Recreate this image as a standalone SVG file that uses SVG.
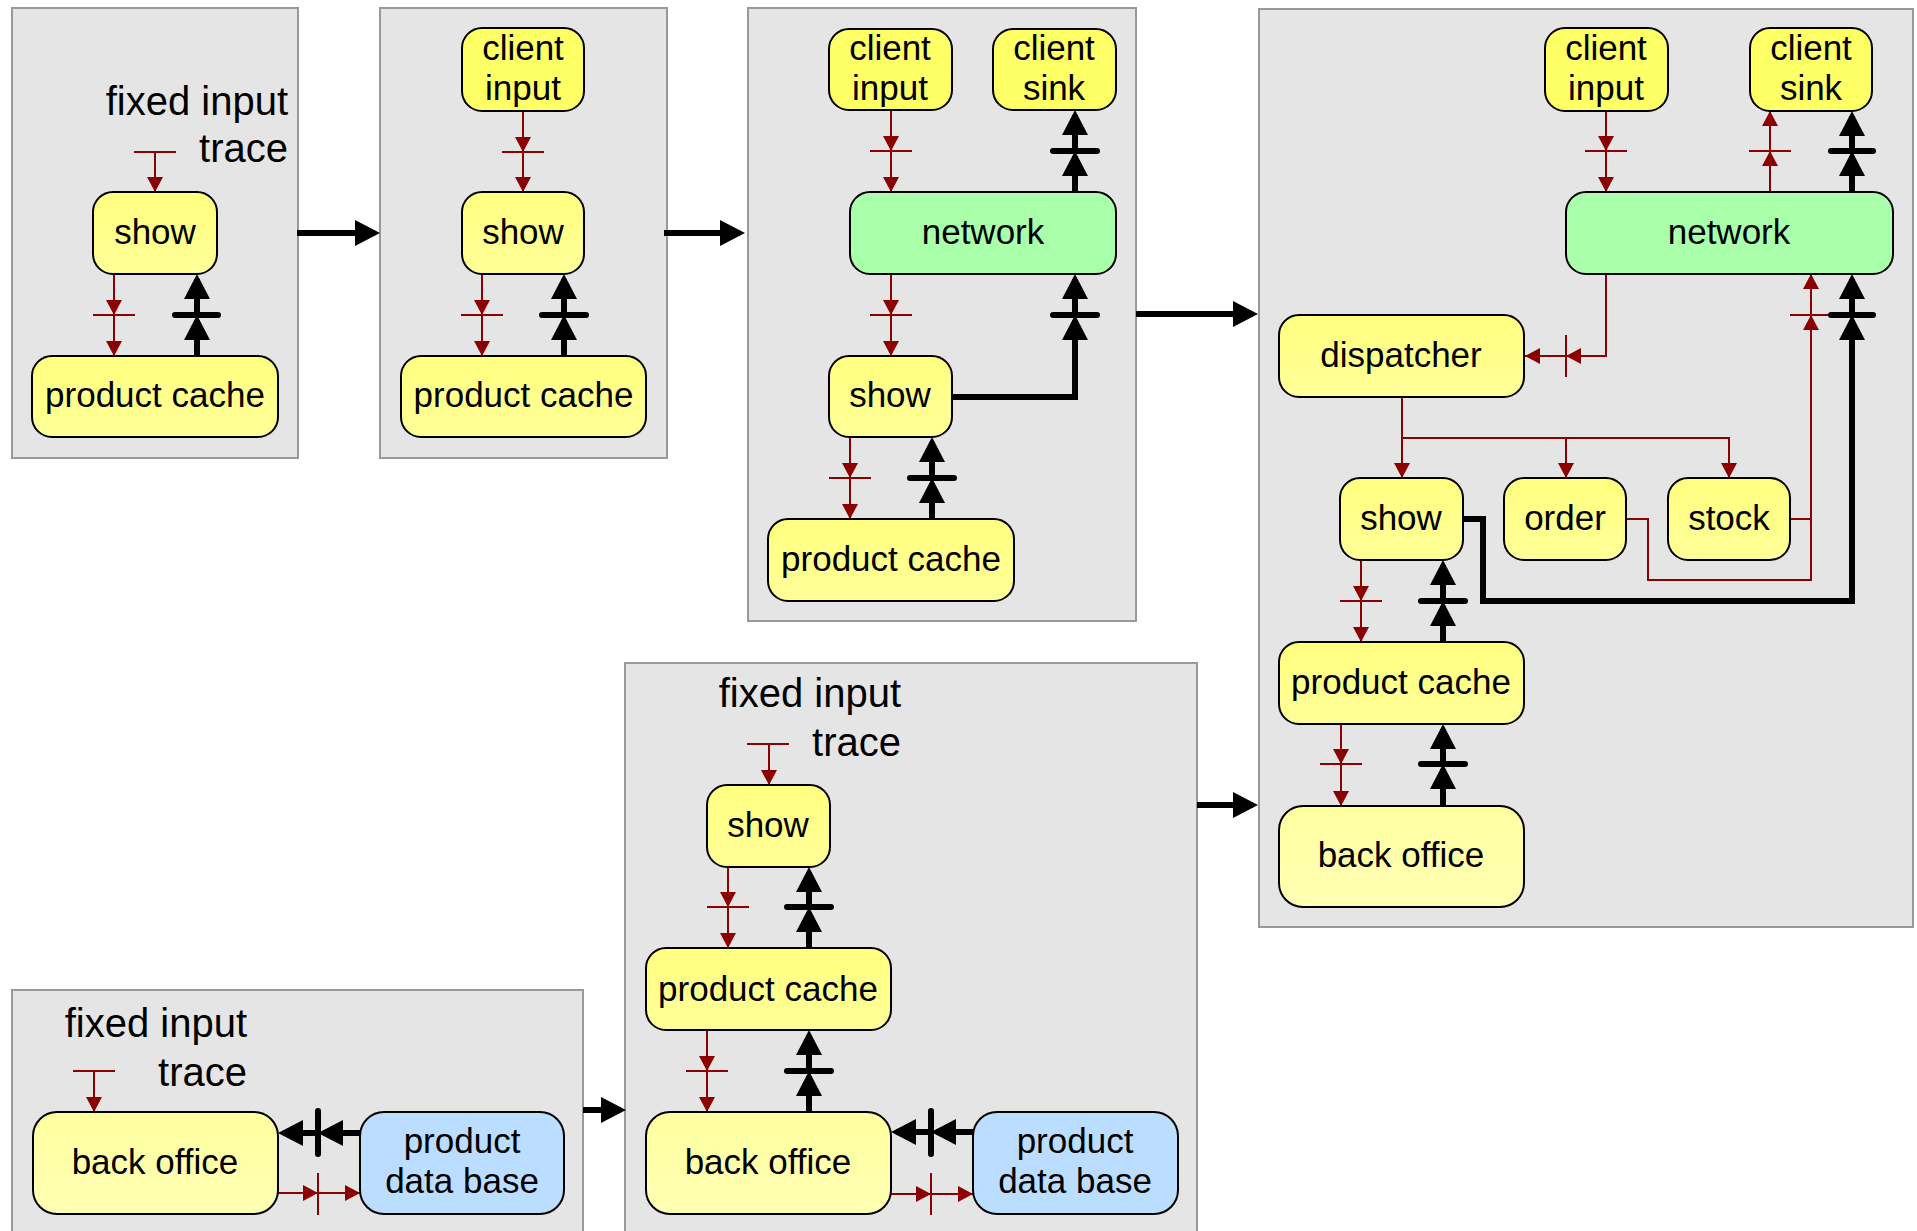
<svg xmlns="http://www.w3.org/2000/svg" width="1917" height="1231" viewBox="0 0 1917 1231">
<style>
.panel{fill:#e5e5e5;stroke:#999;stroke-width:2}
.n{stroke:#000;stroke-width:2}
.y{fill:url(#gy)}
.ys{fill:#ffff66}
.yl{fill:url(#gl)}
.g{fill:#aaffaa}
.b{fill:#bbddff}
text{font-family:"Liberation Sans",Arial,sans-serif;fill:#000}
.t{font-size:35px;text-anchor:middle}
.lbl{font-size:40px;text-anchor:end}
.r{fill:none;stroke:#8b0000;stroke-width:2;marker-end:url(#ar)}
.rl{fill:none;stroke:#8b0000;stroke-width:2}
.k{fill:none;stroke:#000;stroke-width:6;marker-end:url(#ab)}
.kb{fill:none;stroke:#000;stroke-width:6;stroke-linecap:round}
</style>
<defs>
<linearGradient id="gy" x1="0" y1="0" x2="0" y2="1"><stop offset="0" stop-color="#ffff80"/><stop offset="1" stop-color="#ffff99"/></linearGradient>
<linearGradient id="gl" x1="0" y1="0" x2="0" y2="1"><stop offset="0" stop-color="#ffffa0"/><stop offset="1" stop-color="#ffffb4"/></linearGradient>
<marker id="ar" markerUnits="userSpaceOnUse" markerWidth="15" markerHeight="16" viewBox="-15 -8 15 16" refX="0" refY="0" orient="auto"><path d="M-15,-8 L0,0 L-15,8 z" fill="#8b0000"/></marker>
<marker id="ab" markerUnits="userSpaceOnUse" markerWidth="26" markerHeight="26" viewBox="-21 -13 26 26" refX="0" refY="0" orient="auto"><path d="M-20,-13 L5,0 L-20,13 z" fill="#000"/></marker>
</defs>

<g id="panels">
<rect id="panel1" class="panel" x="12" y="8" width="286" height="450"/>
<rect id="panel2" class="panel" x="380" y="8" width="287" height="450"/>
<rect id="panel3" class="panel" x="748" y="8" width="388" height="613"/>
<rect id="panel4" class="panel" x="1259" y="9" width="654" height="918"/>
<rect id="panel5" class="panel" x="625" y="663" width="572" height="580"/>
<rect id="panel6" class="panel" x="12" y="990" width="571" height="260"/>
</g>

<g id="labels">
<text class="lbl" x="288" y="115">fixed input</text>
<text class="lbl" x="288" y="162">trace</text>
<text class="lbl" x="901" y="707">fixed input</text>
<text class="lbl" x="901" y="756">trace</text>
<text class="lbl" x="247" y="1037">fixed input</text>
<text class="lbl" x="247" y="1086">trace</text>
</g>

<g id="connectors">
<path class="k" d="M297,233 L375,233"/>
<path class="k" d="M664,233 L740,233"/>
<path class="k" d="M1136,314 L1253,314"/>
<path class="k" d="M1197,805 L1253,805"/>
<path class="k" d="M583,1110 L621,1110"/>

<line class="rl" x1="134" y1="152" x2="176" y2="152"/>
<path class="r" d="M155,152 L155,192"/>
<path class="r" d="M114,274 L114,315"/><path class="r" d="M114,315 L114,356"/>
<line class="rl" x1="93" y1="315" x2="135" y2="315"/>
<path class="k" d="M197,356 L197,320"/><path class="k" d="M197,315 L197,279"/>
<line class="kb" x1="175" y1="315" x2="218" y2="315"/>

<path class="r" d="M523,111 L523,152"/><path class="r" d="M523,152 L523,192"/>
<line class="rl" x1="502" y1="152" x2="544" y2="152"/>
<path class="r" d="M482,274 L482,315"/><path class="r" d="M482,315 L482,356"/>
<line class="rl" x1="461" y1="315" x2="503" y2="315"/>
<path class="k" d="M564,356 L564,320"/><path class="k" d="M564,315 L564,279"/>
<line class="kb" x1="542" y1="315" x2="586" y2="315"/>

<path class="r" d="M891,110 L891,151"/><path class="r" d="M891,151 L891,192"/>
<line class="rl" x1="870" y1="151" x2="912" y2="151"/>
<path class="k" d="M1075,192 L1075,156"/><path class="k" d="M1075,151 L1075,115"/>
<line class="kb" x1="1053" y1="151" x2="1097" y2="151"/>
<path class="r" d="M891,274 L891,315"/><path class="r" d="M891,315 L891,356"/>
<line class="rl" x1="870" y1="315" x2="912" y2="315"/>
<path class="k" d="M951,397 L1075,397 L1075,320"/><path class="k" d="M1075,315 L1075,279"/>
<line class="kb" x1="1053" y1="315" x2="1097" y2="315"/>
<path class="r" d="M850,437 L850,478"/><path class="r" d="M850,478 L850,519"/>
<line class="rl" x1="829" y1="478" x2="871" y2="478"/>
<path class="k" d="M932,519 L932,483"/><path class="k" d="M932,478 L932,442"/>
<line class="kb" x1="910" y1="478" x2="954" y2="478"/>

<path class="r" d="M1606,111 L1606,151"/><path class="r" d="M1606,151 L1606,192"/>
<line class="rl" x1="1585" y1="151" x2="1627" y2="151"/>
<path class="r" d="M1770,192 L1770,151"/><path class="r" d="M1770,151 L1770,111"/>
<line class="rl" x1="1749" y1="151" x2="1791" y2="151"/>
<path class="k" d="M1852,192 L1852,156"/><path class="k" d="M1852,151 L1852,116"/>
<line class="kb" x1="1831" y1="151" x2="1873" y2="151"/>
<path class="r" d="M1606,274 L1606,356 L1566,356"/><path class="r" d="M1566,356 L1525,356"/>
<line class="rl" x1="1566" y1="335" x2="1566" y2="377"/>
<path class="r" d="M1402,397 L1402,478"/>
<path class="r" d="M1402,438 L1729,438 L1729,478"/>
<path class="r" d="M1566,438 L1566,478"/>
<path class="r" d="M1626,519 L1648,519 L1648,580 L1811,580 L1811,315"/><path class="r" d="M1811,315 L1811,274"/>
<path class="rl" d="M1790,519 L1811,519"/>
<line class="rl" x1="1790" y1="315" x2="1831" y2="315"/>
<path class="k" d="M1463,519 L1483,519 L1483,601 L1852,601 L1852,320"/><path class="k" d="M1852,315 L1852,279"/>
<line class="kb" x1="1831" y1="315" x2="1873" y2="315"/>
<path class="r" d="M1361,560 L1361,601"/><path class="r" d="M1361,601 L1361,642"/>
<line class="rl" x1="1340" y1="601" x2="1382" y2="601"/>
<path class="k" d="M1443,642 L1443,606"/><path class="k" d="M1443,601 L1443,565"/>
<line class="kb" x1="1421" y1="601" x2="1465" y2="601"/>
<path class="r" d="M1341,724 L1341,764"/><path class="r" d="M1341,764 L1341,806"/>
<line class="rl" x1="1320" y1="764" x2="1362" y2="764"/>
<path class="k" d="M1443,806 L1443,769"/><path class="k" d="M1443,764 L1443,729"/>
<line class="kb" x1="1421" y1="764" x2="1465" y2="764"/>

<line class="rl" x1="747" y1="744" x2="789" y2="744"/>
<path class="r" d="M769,744 L769,785"/>
<path class="r" d="M728,867 L728,907"/><path class="r" d="M728,907 L728,948"/>
<line class="rl" x1="707" y1="907" x2="749" y2="907"/>
<path class="k" d="M809,948 L809,912"/><path class="k" d="M809,907 L809,872"/>
<line class="kb" x1="787" y1="907" x2="831" y2="907"/>
<path class="r" d="M707,1030 L707,1071"/><path class="r" d="M707,1071 L707,1112"/>
<line class="rl" x1="686" y1="1071" x2="728" y2="1071"/>
<path class="k" d="M809,1112 L809,1076"/><path class="k" d="M809,1071 L809,1035"/>
<line class="kb" x1="787" y1="1071" x2="831" y2="1071"/>
<path class="k" d="M973,1132 L936,1132"/><path class="k" d="M931,1132 L896,1132"/>
<line class="kb" x1="931" y1="1111" x2="931" y2="1154"/>
<path class="r" d="M891,1194 L931,1194"/><path class="r" d="M931,1194 L973,1194"/>
<line class="rl" x1="931" y1="1173" x2="931" y2="1215"/>

<line class="rl" x1="73" y1="1071" x2="115" y2="1071"/>
<path class="r" d="M94,1071 L94,1112"/>
<path class="k" d="M360,1133 L323,1133"/><path class="k" d="M318,1133 L283,1133"/>
<line class="kb" x1="318" y1="1111" x2="318" y2="1154"/>
<path class="r" d="M278,1193 L318,1193"/><path class="r" d="M318,1193 L360,1193"/>
<line class="rl" x1="318" y1="1173" x2="318" y2="1215"/>
</g>

<g id="p1-show"><rect class="n y" x="93" y="192" width="124" height="82" rx="20"/><text class="t" x="155" y="244">show</text></g>
<g id="p1-cache"><rect class="n y" x="32" y="356" width="246" height="81" rx="20"/><text class="t" x="155" y="407">product cache</text></g>

<g id="p2-client-input"><rect class="n ys" x="462" y="28" width="122" height="83" rx="20"/><text class="t" x="523" y="60">client</text><text class="t" x="523" y="100">input</text></g>
<g id="p2-show"><rect class="n y" x="462" y="192" width="122" height="82" rx="20"/><text class="t" x="523" y="244">show</text></g>
<g id="p2-cache"><rect class="n y" x="401" y="356" width="245" height="81" rx="20"/><text class="t" x="523.5" y="407">product cache</text></g>

<g id="p3-client-input"><rect class="n ys" x="829" y="29" width="123" height="81" rx="20"/><text class="t" x="890" y="60">client</text><text class="t" x="890" y="100">input</text></g>
<g id="p3-client-sink"><rect class="n ys" x="993" y="29" width="123" height="81" rx="20"/><text class="t" x="1054" y="60">client</text><text class="t" x="1054" y="100">sink</text></g>
<g id="p3-network"><rect class="n g" x="850" y="192" width="266" height="82" rx="20"/><text class="t" x="983" y="244">network</text></g>
<g id="p3-show"><rect class="n y" x="829" y="356" width="123" height="81" rx="20"/><text class="t" x="890" y="407">show</text></g>
<g id="p3-cache"><rect class="n y" x="768" y="519" width="246" height="82" rx="20"/><text class="t" x="891" y="571">product cache</text></g>

<g id="p4-client-input"><rect class="n ys" x="1545" y="28" width="123" height="83" rx="20"/><text class="t" x="1606" y="60">client</text><text class="t" x="1606" y="100">input</text></g>
<g id="p4-client-sink"><rect class="n ys" x="1750" y="28" width="122" height="83" rx="20"/><text class="t" x="1811" y="60">client</text><text class="t" x="1811" y="100">sink</text></g>
<g id="p4-network"><rect class="n g" x="1566" y="192" width="327" height="82" rx="20"/><text class="t" x="1729" y="244">network</text></g>
<g id="p4-dispatcher"><rect class="n y" x="1279" y="315" width="245" height="82" rx="20"/><text class="t" x="1401" y="367">dispatcher</text></g>
<g id="p4-show"><rect class="n y" x="1340" y="478" width="123" height="82" rx="20"/><text class="t" x="1401" y="530">show</text></g>
<g id="p4-order"><rect class="n y" x="1504" y="478" width="122" height="82" rx="20"/><text class="t" x="1565" y="530">order</text></g>
<g id="p4-stock"><rect class="n y" x="1668" y="478" width="122" height="82" rx="20"/><text class="t" x="1729" y="530">stock</text></g>
<g id="p4-cache"><rect class="n y" x="1279" y="642" width="245" height="82" rx="20"/><text class="t" x="1401" y="694">product cache</text></g>
<g id="p4-back-office"><rect class="n yl" x="1279" y="806" width="245" height="101" rx="24"/><text class="t" x="1401" y="867">back office</text></g>

<g id="p5-show"><rect class="n y" x="707" y="785" width="123" height="82" rx="20"/><text class="t" x="768" y="837">show</text></g>
<g id="p5-cache"><rect class="n y" x="646" y="948" width="245" height="82" rx="20"/><text class="t" x="768" y="1001">product cache</text></g>
<g id="p5-back-office"><rect class="n yl" x="646" y="1112" width="245" height="102" rx="24"/><text class="t" x="768" y="1174">back office</text></g>
<g id="p5-product-db"><rect class="n b" x="973" y="1112" width="205" height="102" rx="24"/><text class="t" x="1075" y="1153">product</text><text class="t" x="1075" y="1193">data base</text></g>

<g id="p6-back-office"><rect class="n yl" x="33" y="1112" width="245" height="102" rx="24"/><text class="t" x="155" y="1174">back office</text></g>
<g id="p6-product-db"><rect class="n b" x="360" y="1112" width="204" height="102" rx="24"/><text class="t" x="462" y="1153">product</text><text class="t" x="462" y="1193">data base</text></g>
</svg>
